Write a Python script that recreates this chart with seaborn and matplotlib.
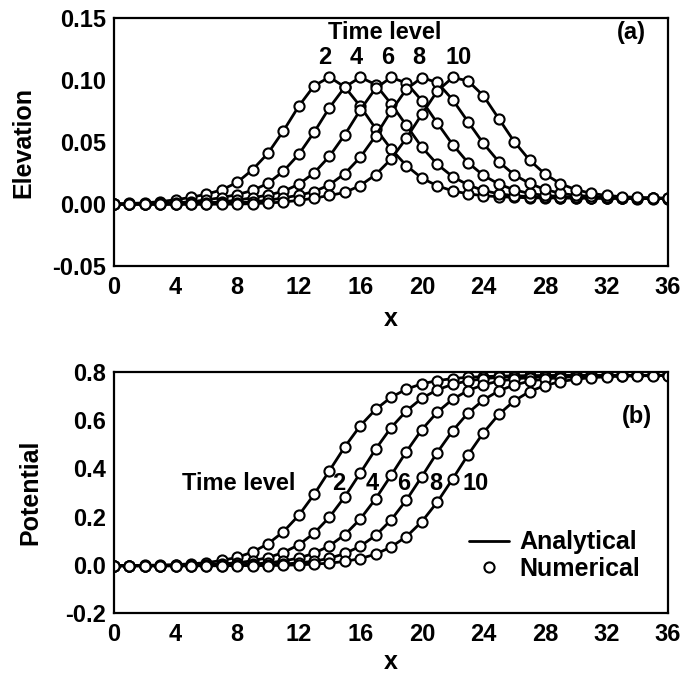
import numpy as np
import pandas as pd
import matplotlib
matplotlib.use("Agg")
import matplotlib.pyplot as plt
import seaborn as sns
from matplotlib import font_manager
from matplotlib.lines import Line2D
from matplotlib.ticker import MultipleLocator, FormatStrFormatter

# grid points and time levels
x_grid = list(range(37))
levels = [2, 4, 6, 8, 10]

# (a) free-surface elevation at each time level
eta_t2 = [0.000, 0.0005, 0.001, 0.002, 0.0035, 0.0055, 0.008, 0.0115, 0.0175, 0.0278, 0.041, 0.059,
          0.079, 0.0955, 0.1025, 0.0945, 0.079, 0.061, 0.0445, 0.031, 0.021, 0.0148, 0.0107, 0.0083,
          0.0068, 0.006, 0.0055, 0.0051, 0.005, 0.005, 0.005, 0.0048, 0.0047, 0.0046, 0.0045, 0.0045, 0.0045]
eta_t4 = [0.0, 0.0, 0.0, 0.0005, 0.001, 0.0019, 0.0034, 0.0053, 0.0077, 0.011, 0.0168, 0.0265,
          0.0401, 0.058, 0.0779, 0.0945, 0.1024, 0.0965, 0.081, 0.0635, 0.046, 0.0322, 0.0222, 0.0155,
          0.011, 0.0083, 0.0068, 0.006, 0.0055, 0.0051, 0.005, 0.005, 0.0049, 0.0048, 0.0047, 0.0046, 0.0045]
eta_t6 = [0.0, 0.0, 0.0, 0.0, 0.0, 0.0005, 0.001, 0.0018, 0.0032, 0.0051, 0.0073, 0.0103,
          0.016, 0.0252, 0.0386, 0.0561, 0.076, 0.0935, 0.1022, 0.0978, 0.0835, 0.0655, 0.0481, 0.0335,
          0.0232, 0.0162, 0.0115, 0.0086, 0.007, 0.0061, 0.0055, 0.0051, 0.005, 0.0049, 0.0048, 0.0047, 0.0046]
eta_t8 = [0.0, 0.0, 0.0, 0.0, 0.0, 0.0, 0.0, 0.0005, 0.001, 0.0018, 0.0031, 0.005,
          0.0072, 0.0101, 0.0156, 0.0247, 0.0378, 0.0551, 0.075, 0.0928, 0.1021, 0.0982, 0.0843, 0.0665,
          0.049, 0.0342, 0.0237, 0.0167, 0.0118, 0.0087, 0.0071, 0.0062, 0.0056, 0.0052, 0.005, 0.0048, 0.0047]
eta_t10 = [0.0, 0.0, 0.0, 0.0, 0.0, 0.0, 0.0, 0.0, 0.0, 0.0004, 0.0009, 0.0017,
           0.003, 0.0048, 0.007, 0.0094, 0.015, 0.0238, 0.0363, 0.0533, 0.0725, 0.0912, 0.1022, 0.0995,
           0.0875, 0.069, 0.0505, 0.0355, 0.0243, 0.0165, 0.0117, 0.0087, 0.007, 0.006, 0.0054, 0.005, 0.0047]

# (b) velocity potential at each time level
phi_t2 = [-0.003, -0.003, -0.002, -0.001, 0.001, 0.004, 0.009, 0.018, 0.031, 0.053, 0.087, 0.137,
          0.205, 0.292, 0.391, 0.490, 0.577, 0.645, 0.695, 0.729, 0.751, 0.764, 0.773, 0.778,
          0.781, 0.783, 0.784, 0.785, 0.785, 0.786, 0.786, 0.786, 0.786, 0.786, 0.786, 0.786, 0.786]
phi_t4 = [-0.004, -0.004, -0.003, -0.003, -0.002, -0.001, 0.001, 0.004, 0.008, 0.017, 0.030, 0.051,
          0.083, 0.131, 0.198, 0.283, 0.381, 0.480, 0.569, 0.639, 0.691, 0.726, 0.749, 0.763,
          0.772, 0.778, 0.781, 0.783, 0.784, 0.785, 0.786, 0.786, 0.786, 0.786, 0.786, 0.786, 0.786]
phi_t6 = [-0.004, -0.004, -0.004, -0.004, -0.003, -0.003, -0.002, -0.001, 0.000, 0.003, 0.008, 0.016,
          0.028, 0.048, 0.079, 0.125, 0.190, 0.274, 0.371, 0.470, 0.561, 0.633, 0.687, 0.723,
          0.747, 0.762, 0.771, 0.777, 0.781, 0.783, 0.784, 0.785, 0.786, 0.786, 0.786, 0.786, 0.786]
phi_t8 = [-0.004, -0.004, -0.004, -0.004, -0.004, -0.004, -0.003, -0.003, -0.002, -0.001, 0.000, 0.003,
          0.008, 0.015, 0.027, 0.047, 0.077, 0.122, 0.186, 0.269, 0.366, 0.466, 0.556, 0.630,
          0.684, 0.722, 0.746, 0.762, 0.771, 0.777, 0.781, 0.783, 0.784, 0.785, 0.786, 0.786, 0.786]
phi_t10 = [-0.004, -0.004, -0.004, -0.004, -0.004, -0.004, -0.004, -0.004, -0.003, -0.003, -0.003, -0.002,
           0.000, 0.003, 0.007, 0.014, 0.026, 0.044, 0.074, 0.117, 0.179, 0.260, 0.356, 0.456,
           0.548, 0.624, 0.680, 0.719, 0.744, 0.760, 0.770, 0.777, 0.780, 0.783, 0.784, 0.785, 0.785]

eta_all = [eta_t2, eta_t4, eta_t6, eta_t8, eta_t10]
phi_all = [phi_t2, phi_t4, phi_t6, phi_t8, phi_t10]

rows = []
for lev, eta, phi in zip(levels, eta_all, phi_all):
    for xi, e, p in zip(x_grid, eta, phi):
        rows.append({"x": xi, "level": lev, "eta": e, "phi": p})
df = pd.DataFrame(rows)

sns.set_style("white")
available = {f.name for f in font_manager.fontManager.ttflist}
fam = [f for f in ["Liberation Sans Narrow", "Liberation Sans", "DejaVu Sans"] if f in available]
plt.rcParams["font.family"] = fam
plt.rcParams["font.weight"] = "bold"
plt.rcParams["axes.unicode_minus"] = False
for key in ("text.color", "axes.labelcolor", "xtick.color", "ytick.color", "axes.edgecolor"):
    plt.rcParams[key] = "black"

fig = plt.figure(figsize=(6.84, 6.77), dpi=100)
ax1 = fig.add_axes([0.1667, 0.607, 0.810, 0.366])
ax2 = fig.add_axes([0.1667, 0.0945, 0.810, 0.356])

ms = 7.3
line_kw = dict(units="level", estimator=None, color="black", lw=2.0, marker="o",
               markersize=ms, markerfacecolor="white", markeredgecolor="black",
               markeredgewidth=1.5, legend=False)
sns.lineplot(data=df, x="x", y="eta", ax=ax1, **line_kw)
sns.lineplot(data=df, x="x", y="phi", ax=ax2, **line_kw)

fs = 17
for ax in (ax1, ax2):
    ax.set_xlim(0, 36)
    ax.xaxis.set_major_locator(MultipleLocator(4))
    ax.xaxis.set_minor_locator(MultipleLocator(1))
    ax.tick_params(which="both", direction="in", top=False, right=False, width=1.6,
                   labelsize=fs, pad=6)
    ax.tick_params(axis="x", which="both", pad=7)
    ax.tick_params(which="major", length=9)
    ax.tick_params(which="minor", length=5.5)
    for sp in ax.spines.values():
        sp.set_linewidth(1.6)
        sp.set_color("black")

ax1.set_xlabel("x", fontsize=fs + 1, fontweight="bold", labelpad=6)
ax2.set_xlabel("x", fontsize=fs + 1, fontweight="bold", labelpad=3)

ax1.set_ylim(-0.05, 0.15)
ax1.yaxis.set_major_locator(MultipleLocator(0.05))
ax1.yaxis.set_minor_locator(MultipleLocator(0.01))
ax1.yaxis.set_major_formatter(FormatStrFormatter("%.2f"))
ax1.set_ylabel("Elevation", fontsize=fs + 1, fontweight="bold", labelpad=12)

ax2.set_ylim(-0.2, 0.8)
ax2.yaxis.set_major_locator(MultipleLocator(0.2))
ax2.yaxis.set_minor_locator(MultipleLocator(0.04))
ax2.yaxis.set_major_formatter(FormatStrFormatter("%.1f"))
ax2.set_ylabel("Potential", fontsize=fs + 1, fontweight="bold", labelpad=16)

for ax in (ax1, ax2):
    for lab in ax.get_xticklabels() + ax.get_yticklabels():
        lab.set_fontweight("bold")

# annotations, panel (a)
tk = dict(fontsize=fs, fontweight="bold", ha="center", va="center")
ax1.text(17.6, 0.1385, "Time level", **tk)
for lab, xp in zip(["2", "4", "6", "8", "10"], [13.7, 15.75, 17.8, 19.8, 22.4]):
    ax1.text(xp, 0.118, lab, **tk)
ax1.text(33.6, 0.1385, "(a)", **tk)

# annotations, panel (b)
ax2.text(8.1, 0.336, "Time level", **tk)
for lab, xp in zip(["2", "4", "6", "8", "10"], [14.6, 16.8, 18.8, 20.9, 23.5]):
    ax2.text(xp, 0.336, lab, **tk)
ax2.text(34.0, 0.616, "(b)", **tk)

handles = [Line2D([], [], color="black", lw=2.0),
           Line2D([], [], ls="none", marker="o", markersize=ms, markerfacecolor="white",
                  markeredgecolor="black", markeredgewidth=1.5)]
ax2.legend(handles, ["Analytical", "Numerical"], loc="lower right", bbox_to_anchor=(0.99, 0.04),
           frameon=False, handlelength=1.6, handletextpad=0.4, labelspacing=0.1,
           prop={"size": fs + 1, "weight": "bold"})

fig.savefig("out.png", dpi=100)
